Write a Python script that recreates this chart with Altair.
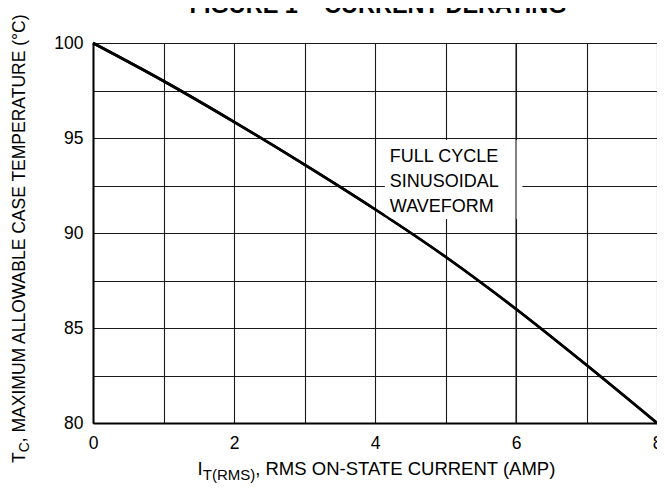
import altair as alt
import pandas as pd

# ---- data ----
current = [0, 1, 2, 3, 4, 5, 6, 7, 8]
temperature = [100.0, 98.0, 95.85, 93.6, 91.25, 88.75, 86.0, 83.05, 80.0]

x_grid = [0, 1, 2, 3, 4, 5, 6, 7, 8]
y_grid = [80, 82.5, 85, 87.5, 90, 92.5, 95, 97.5, 100]

note_lines = ["FULL CYCLE", "SINUSOIDAL", "WAVEFORM"]
note_x = [4.21, 4.21, 4.21]
note_y = [93.75, 92.44, 91.1]

box_x = [4.14]
box_x2 = [6.09]
box_y = [90.74]
box_y2 = [94.89]

title_text = "FIGURE 1 \u2013 CURRENT DERATING"
x_title_parts = ["I", "T(RMS)", ", RMS ON-STATE CURRENT (AMP)"]
y_title_parts = ["T", "C", ", MAXIMUM ALLOWABLE CASE TEMPERATURE (\u00b0C)"]

FONT = "Liberation Sans, Arial, sans-serif"

W, H = 564, 380

df = pd.DataFrame({"I": current, "T": temperature})
x_scale = alt.Scale(domain=[0, 8], nice=False, zero=False)
y_scale = alt.Scale(domain=[80, 100], nice=False, zero=False)

x_axis = alt.Axis(
    values=x_grid, grid=True, ticks=False, title=None,
    labelExpr="datum.value % 2 === 0 ? datum.label : ''",
    labelFont=FONT, labelFontSize=17.5, labelPadding=11,
    labelColor="black", domainColor="black", domainWidth=2,
    gridColor="#1a1a1a", gridWidth=1.1, labelOverlap=False, labelFlush=False)
y_axis = alt.Axis(
    values=y_grid, grid=True, ticks=False, title=None,
    labelExpr="datum.value % 5 === 0 ? datum.label : ''",
    labelFont=FONT, labelFontSize=17.5, labelPadding=10,
    labelColor="black", domainColor="black", domainWidth=2,
    gridColor="#1a1a1a", gridWidth=1.1, labelOverlap=False, labelFlush=False)

curve = alt.Chart(df).mark_line(
    color="black", strokeWidth=2.6, interpolate="monotone"
).encode(
    x=alt.X("I:Q", scale=x_scale, axis=x_axis),
    y=alt.Y("T:Q", scale=y_scale, axis=y_axis),
)

box = alt.Chart(pd.DataFrame({"I": box_x, "x2": box_x2, "T": box_y, "y2": box_y2})).mark_rect(
    color="white"
).encode(
    x=alt.X("I:Q", scale=x_scale, axis=x_axis), x2="x2:Q",
    y=alt.Y("T:Q", scale=y_scale, axis=y_axis), y2="y2:Q",
)

rule6 = alt.Chart(pd.DataFrame({"I": [6], "T": [80], "y2": [100]})).mark_rule(
    color="#1a1a1a", strokeWidth=1.1
).encode(
    x=alt.X("I:Q", scale=x_scale, axis=x_axis),
    y=alt.Y("T:Q", scale=y_scale, axis=y_axis), y2="y2:Q",
)

note = alt.Chart(pd.DataFrame({"t": note_lines, "I": note_x, "T": note_y})).mark_text(
    font=FONT, fontSize=18, align="left", baseline="alphabetic", color="black"
).encode(
    x=alt.X("I:Q", scale=x_scale, axis=x_axis),
    y=alt.Y("T:Q", scale=y_scale, axis=y_axis),
    text="t:N",
)

def txt(s, x, y, size, angle=0, bold=False, align="left"):
    kw = dict(font=FONT, fontSize=size, align=align, baseline="alphabetic",
              color="black", angle=angle)
    if bold:
        kw["fontWeight"] = "bold"
    return alt.Chart(pd.DataFrame({"t": [s]})).mark_text(**kw).encode(
        x=alt.value(x), y=alt.value(y), text="t:N")

# title (clipped at top edge as in reference)
title = txt(title_text, 285, -30, 23.5, bold=True, align="center")

# x-axis title with subscript
main_s, sub_s = 18.5, 15
w_I = 0.278 * main_s
w_sub = 3.499 * sub_s
w_rest = 16.389 * main_s
x0 = 285 - (w_I + w_sub + w_rest) / 2
xb = 432
xt1 = txt(x_title_parts[0], x0, xb, main_s)
xt2 = txt(x_title_parts[1], x0 + w_I, xb + 5, sub_s)
xt3 = txt(x_title_parts[2], x0 + w_I + w_sub, xb, main_s)

# y-axis title with subscript (rotated)
ys_main, ys_sub = 17.5, 14
yx = -68
yb = 420
w_T = 0.611 * ys_main
w_C = 0.722 * ys_sub
yt1 = txt(y_title_parts[0], yx, yb, ys_main, angle=270)
yt2 = txt(y_title_parts[1], yx + 4, yb - w_T, ys_sub, angle=270)
yt3 = txt(y_title_parts[2], yx, yb - w_T - w_C, ys_main, angle=270)

chart = alt.layer(
    curve, box, rule6, curve, note, title, xt1, xt2, xt3, yt1, yt2, yt3
).properties(
    width=W, height=H,
    autosize=alt.AutoSizeParams(type="none"),
    padding={"left": 85, "top": 35, "right": 0, "bottom": 61},
).configure_view(
    stroke="#1a1a1a", strokeWidth=1.1
).configure(background="white")

chart.save("out.html", embed_options={"renderer": "svg", "actions": False})
